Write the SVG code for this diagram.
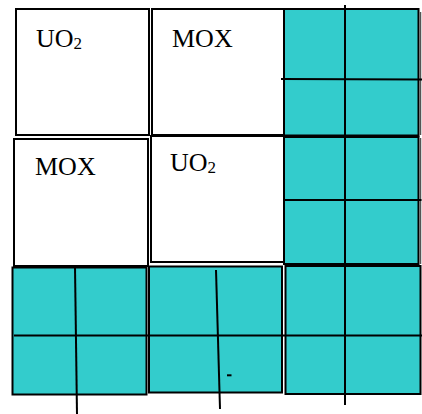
<svg xmlns="http://www.w3.org/2000/svg" width="422" height="414" viewBox="0 0 422 414">
<style>
.w{fill:#ffffff;stroke:#000;stroke-width:2}
.t{fill:#33cccc;stroke:#000;stroke-width:2}
.l{stroke:#000;stroke-width:2;fill:none}
.g{stroke:#555;stroke-width:1.5;fill:none}
.tx{font-family:"Liberation Serif","Times New Roman",serif;font-size:26px;fill:#000}
.sub{font-size:17px}
</style>
<rect width="422" height="414" fill="#fff"/>
<g id="uo2-a">
<rect class="w" x="16" y="9" width="133" height="126"/>
<text class="tx" x="36" y="47">UO<tspan class="sub" dy="2">2</tspan></text>
</g>
<g id="mox-a">
<rect class="w" x="152" y="9" width="132" height="126"/>
<text class="tx" x="172" y="47">MOX</text>
</g>
<g id="teal-a">
<rect class="t" x="284" y="9" width="134.5" height="126.5"/>
<line class="g" x1="420.5" y1="12" x2="420.5" y2="135"/>
</g>
<g id="mox-b">
<rect class="w" x="14" y="139" width="134" height="127"/>
<text class="tx" x="35" y="175">MOX</text>
</g>
<g id="uo2-b">
<rect class="w" x="151" y="136" width="133" height="126"/>
<text class="tx" x="170" y="171">UO<tspan class="sub" dy="2">2</tspan></text>
</g>
<g id="teal-b">
<rect class="t" x="284" y="137" width="134.5" height="127"/>
<line class="g" x1="420.5" y1="138" x2="420.5" y2="264"/>
</g>
<g id="teal-c">
<rect class="t" x="12.5" y="267.5" width="134" height="127"/>
</g>
<g id="teal-d">
<rect class="t" x="149" y="266.5" width="133" height="126"/>
</g>
<g id="teal-e">
<rect class="t" x="285.5" y="266" width="135" height="128"/>
</g>
<g id="connectors">
<line class="l" x1="345" y1="5" x2="345" y2="405"/>
<line class="l" x1="281" y1="79" x2="422" y2="79.5"/>
<line class="l" x1="283" y1="200" x2="421.5" y2="200"/>
<line class="l" x1="14" y1="335.5" x2="422" y2="335.5"/>
<line class="l" x1="75" y1="267" x2="77" y2="414"/>
<line class="l" x1="216" y1="270" x2="220" y2="409"/>
<line class="l" x1="227" y1="375.3" x2="231.5" y2="375.3"/>
</g>
</svg>
